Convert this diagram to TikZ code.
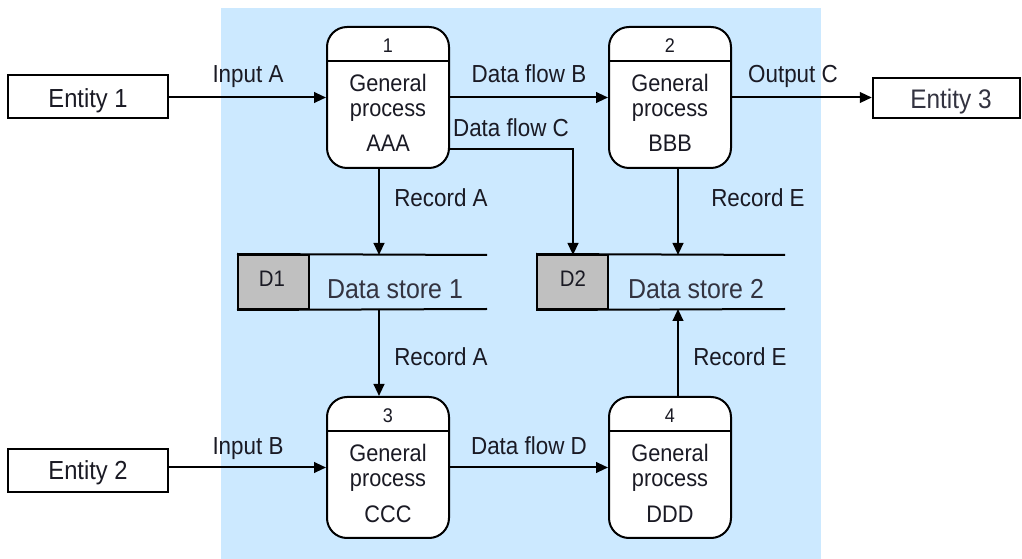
\documentclass[tikz,border=0pt]{standalone}
\usepackage{fontspec}
\setmainfont{Liberation Sans}
\usetikzlibrary{arrows.meta,calc}
\definecolor{bgblue}{HTML}{CCE9FF}
\definecolor{dsgrey}{HTML}{C0C0C0}
\definecolor{txtdark}{HTML}{1A1A24}
\definecolor{txtgrey}{HTML}{333340}
\begin{document}
\begin{tikzpicture}[x=0.75pt,y=-0.75pt,
  flow/.style={line width=1.5pt,-{Triangle[length=9pt,width=8pt]}},
  proc/.style={draw,line width=1.5pt,fill=white,rounded corners=15pt,minimum width=91.5pt,minimum height=105.75pt,inner sep=0pt},
  ent/.style={draw,line width=1.8pt,fill=white,minimum width=120pt,minimum height=32.25pt,inner sep=0pt},
  dsbox/.style={draw,line width=1.5pt,fill=dsgrey,minimum width=53.25pt,minimum height=40.5pt,inner sep=0pt},
  tx/.style={inner sep=0pt,anchor=base,yscale=1.1},
  lbl/.style={tx,font=\fontsize{16.8}{18}\selectfont,text=txtdark},
  ptxt/.style={tx,font=\fontsize{16.3}{18}\selectfont,text=txtdark},
  pnum/.style={tx,font=\fontsize{13.5}{14}\selectfont,text=txtdark},
  etxt/.style={tx,font=\fontsize{17.8}{20}\selectfont,text=txtdark},
  dstxt/.style={tx,font=\fontsize{18.7}{20}\selectfont,text=txtgrey},
  dtxt/.style={tx,font=\fontsize{15.3}{16}\selectfont,text=txtdark},
  dsline/.style={line width=1.5pt}
]
\useasboundingbox (0,0) rectangle (1022,559);
\fill[bgblue] (221,8) rectangle (821,559);

% processes
\node[proc] (p1) at (388,97.5) {};
\node[proc] (p2) at (670,97.5) {};
\node[proc] (p3) at (388,467.5) {};
\node[proc] (p4) at (670,467.5) {};
\foreach \p in {p1,p2,p3,p4}{
  \draw[line width=1.5pt] ($(\p.north west)+(0,35)$) -- ($(\p.north east)+(0,35)$);
}
\node[pnum] (n1) at (388,53) {1};
\node[ptxt] (g1) at (388,92) {General};
\node[ptxt] (q1) at (388,117) {process};
\node[ptxt] (c1) at (388,152) {AAA};
\node[pnum] (n2) at (670,53) {2};
\node[ptxt] (g2) at (670,92) {General};
\node[ptxt] (q2) at (670,117) {process};
\node[ptxt] (c2) at (670,152) {BBB};
\node[pnum] (n3) at (388,423) {3};
\node[ptxt] (g3) at (388,462) {General};
\node[ptxt] (q3) at (388,487) {process};
\node[ptxt] (c3) at (388,523) {CCC};
\node[pnum] (n4) at (670,423) {4};
\node[ptxt] (g4) at (670,462) {General};
\node[ptxt] (q4) at (670,487) {process};
\node[ptxt] (c4) at (670,523) {DDD};

% entities
\node[ent] (e1) at (88,96.5) {};
\node[etxt] (e1t) at (88,108) {Entity 1};
\node[ent] (e2) at (88,470.5) {};
\node[etxt] (e2t) at (88,480) {Entity 2};
\node[ent,minimum width=110.25pt,minimum height=30pt] (e3) at (946.5,98) {};
\node[etxt,text=txtgrey,font=\fontsize{18.3}{20}\selectfont] (e3t) at (951,109) {Entity 3};

% data stores
\node[dsbox] (d1) at (273.5,282) {};
\draw[dsline] (d1.north west) -- (487,255) (d1.south west) -- (487,309);
\node[dtxt] (d1t) at (272,287) {D1};
\node[dstxt] (s1) at (395,299) {Data store 1};
\node[dsbox] (d2) at (572.5,282) {};
\draw[dsline] (d2.north west) -- (785,255) (d2.south west) -- (785,309);
\node[dtxt] (d2t) at (573,287) {D2};
\node[dstxt] (s2) at (696,299) {Data store 2};

\coordinate (ds1in) at (379,255);
\coordinate (ds1out) at (379,309);
\coordinate (ds2a) at (573,255);
\coordinate (ds2b) at (678,255);
\coordinate (ds2c) at (678,309);

% flows
\draw[flow] (e1.east |- p1.west) -- (p1.west);
\draw[flow] (p1.east) -- (p2.west);
\draw[flow] (p2.east) -- (e3.west |- p2.east);
\draw[flow] ($(p1.east)+(0,52)$) -| (ds2a);
\draw[flow] (p1.south -| ds1in) -- (ds1in);
\draw[flow] (p2.south -| ds2b) -- (ds2b);
\draw[flow] (ds1out) -- (ds1out |- p3.north);
\draw[flow] (p4.north -| ds2c) -- (ds2c);
\draw[flow] (e2.east |- p3.west) -- (p3.west);
\draw[flow] (p3.east) -- (p4.west);

% labels
\node[lbl] (l1) at (248,83) {Input A};
\node[lbl] (l2) at (529,83) {Data flow B};
\node[lbl] (l3) at (793,83) {Output C};
\node[lbl] (l4) at (511,137) {Data flow C};
\node[lbl] (l5) at (441,207) {Record A};
\node[lbl] (l6) at (758,207) {Record E};
\node[lbl] (l7) at (441,366) {Record A};
\node[lbl] (l8) at (740,366) {Record E};
\node[lbl] (l9) at (248,455) {Input B};
\node[lbl] (l10) at (529,455) {Data flow D};
\end{tikzpicture}
\end{document}
